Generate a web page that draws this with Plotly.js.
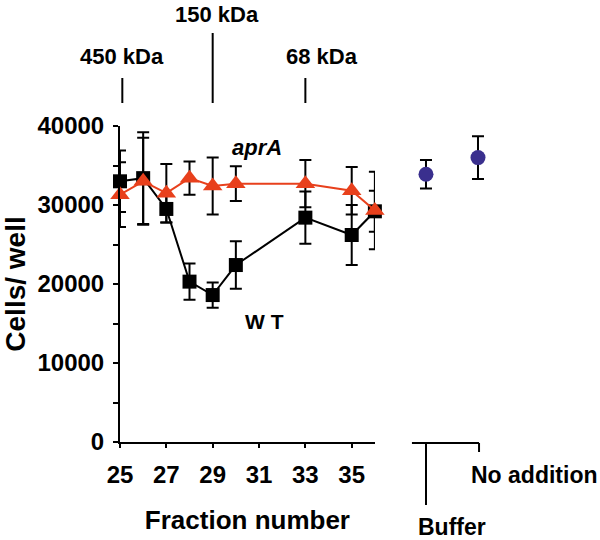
<!DOCTYPE html>
<html>
<head>
<meta charset="utf-8">
<script src="https://cdn.plot.ly/plotly-3.0.1.min.js"></script>
<style>html,body{margin:0;padding:0;background:#fff}</style>
</head>
<body>
<div id="chart" style="width:600px;height:540px"></div>
<script>
// ---- data ----
const fractions = [25, 26, 27, 28, 29, 30, 33, 35, 36];
const wtValues  = [33000, 33400, 29500, 20300, 18600, 22400, 28400, 26200, 29200];
const wtErrors  = [3900, 5800, 1700, 2300, 1600, 3000, 3300, 3800, 2600];
const aprAValues = [31300, 33000, 31500, 33400, 32400, 32700, 32700, 31800, 29300];
const aprAErrors = [4100, 5500, 3700, 2100, 3600, 2200, 3000, 3000, 4900];
const controlCategories = ["Buffer", "No addition"];
const controlValues = [33900, 36000];
const controlErrors = [1800, 2700];
const xTickValues = [25, 27, 29, 31, 33, 35];
const yTickValues = [0, 10000, 20000, 30000, 40000];
const kdaLabels = ["450 kDa", "150 kDa", "68 kDa"];
const kdaFractions = [25.1, 29, 33];

const FONT = "Liberation Sans, Arial, Helvetica, sans-serif";
const bold = (size) => ({family: FONT, size: size, color: "#000", weight: "bold"});

const errStyle = (arr) => ({type: "data", array: arr, visible: true, color: "#000", thickness: 2, width: 6});

const traces = [
  {
    x: fractions, y: wtValues, xaxis: "x", yaxis: "y",
    mode: "lines+markers", name: "WT",
    line: {color: "#000", width: 2},
    marker: {symbol: "square", size: 14, color: "#000"},
    error_y: errStyle(wtErrors),
    cliponaxis: false
  },
  {
    x: fractions, y: aprAValues, xaxis: "x", yaxis: "y",
    mode: "lines+markers", name: "aprA",
    line: {color: "#e8401c", width: 2},
    marker: {symbol: "triangle-up", size: 17, color: "#e8401c"},
    error_y: errStyle(aprAErrors),
    cliponaxis: false
  },
  {
    x: controlCategories, y: controlValues, xaxis: "x2", yaxis: "y",
    mode: "markers", name: "controls",
    marker: {symbol: "circle", size: 15, color: "#3a2f8e"},
    error_y: errStyle(controlErrors),
    cliponaxis: false
  }
];

// paper y helper: plot area spans 126..442 px
const py = (px) => (442 - px) / 316;

const shapes = [];
const annotations = [];
kdaLabels.forEach((lab, i) => {
  const isMid = i === 1;
  shapes.push({
    type: "line", xref: "x", yref: "paper",
    x0: kdaFractions[i], x1: kdaFractions[i],
    y0: py(103), y1: isMid ? py(33) : py(78),
    line: {color: "#000", width: 2}
  });
  annotations.push({
    text: lab, xref: "x", yref: "paper",
    x: kdaFractions[i], y: isMid ? py(15) : py(57),
    xshift: i === 2 ? 17 : (isMid ? 4 : 0),
    showarrow: false, font: bold(22), xanchor: "center", yanchor: "middle"
  });
});

// bracket under controls
shapes.push({type: "line", xref: "x2", yref: "paper", x0: 0, x1: 0, y0: py(443), y1: py(505), line: {color: "#000", width: 2}});
shapes.push({type: "line", xref: "x2", yref: "paper", x0: -0.27, x1: 1.02, y0: py(443), y1: py(443), line: {color: "#000", width: 2}});
shapes.push({type: "line", xref: "x2", yref: "paper", x0: 1.02, x1: 1.02, y0: py(443), y1: py(452), line: {color: "#000", width: 2}});

annotations.push({text: controlCategories[1], xref: "x2", yref: "paper", x: 0.82, y: py(475), xanchor: "left", yanchor: "middle", showarrow: false, font: bold(23)});
annotations.push({text: controlCategories[0], xref: "x2", yref: "paper", x: -0.19, y: py(527), xanchor: "left", yanchor: "middle", showarrow: false, font: bold(23)});

annotations.push({text: "<i>aprA</i>", xref: "x", yref: "y", x: 30.9, y: 37300, showarrow: false, font: bold(22), xanchor: "center", yanchor: "middle"});
annotations.push({text: "W T", xref: "x", yref: "y", x: 31.25, y: 15200, showarrow: false, font: bold(21), xanchor: "center", yanchor: "middle"});

const layout = {
  width: 600, height: 540,
  margin: {l: 120, r: 0, t: 126, b: 98, pad: 0},
  paper_bgcolor: "#fff", plot_bgcolor: "#fff",
  showlegend: false,
  xaxis: {
    domain: [0, 0.531], range: [25, 36],
    tickmode: "array", tickvals: xTickValues,
    ticks: "outside", ticklen: 4, tickwidth: 2, tickcolor: "#000",
    ticklabelstandoff: 6,
    showline: true, linewidth: 2, linecolor: "#000",
    showgrid: false, zeroline: false,
    tickfont: bold(24),
    title: {text: "Fraction number", font: bold(26), standoff: 24}
  },
  xaxis2: {
    domain: [0.5833, 0.8], type: "category", range: [-0.5, 1.5],
    anchor: "y", showline: false, showticklabels: false, ticks: "",
    showgrid: false, zeroline: false
  },
  yaxis: {
    range: [0, 40000], anchor: "x",
    tickmode: "array", tickvals: yTickValues, tickformat: "d",
    ticks: "outside", ticklen: 5, tickwidth: 2, tickcolor: "#000",
    ticklabelstandoff: 4,
    minor: {dtick: 5000, ticks: "outside", ticklen: 5, tickwidth: 2, tickcolor: "#000", showgrid: false},
    showline: true, linewidth: 2, linecolor: "#000",
    showgrid: false, zeroline: false,
    tickfont: bold(24),
    title: {text: "Cells/ well", font: bold(28), standoff: 4}
  },
  shapes: shapes,
  annotations: annotations
};

Plotly.newPlot("chart", traces, layout, {staticPlot: true, displayModeBar: false});
</script>
</body>
</html>
